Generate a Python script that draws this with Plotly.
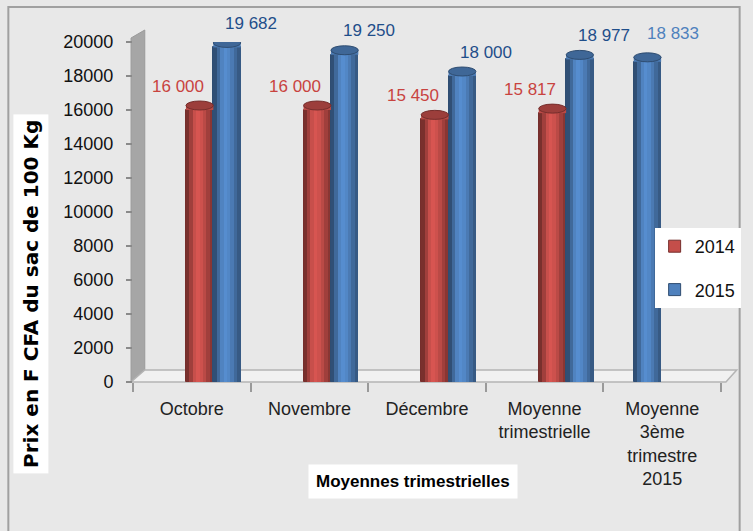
import plotly.graph_objects as go

# ---------------- data ----------------
categories = ["Octobre", "Novembre", "Décembre", "Moyenne<br>trimestrielle",
              "Moyenne<br>3ème<br>trimestre<br>2015"]
prix_2014 = [16000, 16000, 15450, 15817, None]
prix_2015 = [19682, 19250, 18000, 18977, None]
prix_3e_trim_2015 = [None, None, None, None, 18833]
labels_2014 = ["16 000", "16 000", "15 450", "15 817", ""]
labels_2015 = ["19 682", "19 250", "18 000", "18 977", ""]
labels_3e = ["", "", "", "", "18 833"]
y_ticks = list(range(0, 20001, 2000))
y_ticktext = [str(v) for v in y_ticks]

# ---------------- geometry / style ----------------
W, H = 753, 531
L, R, T, B = 133, 21, 42, 149
PW, PH = W - L - R, H - T - B


def px(p):
    return (p - L) / PW


def py(p):
    return (H - B - p) / PH


BAR_W = 0.233
OFF_2014 = -0.05
OFF_2015 = OFF_2014 + BAR_W
OFF_3E = -0.242

RED = (196, 78, 74)
BLUE = (79, 129, 189)
FONT = "Liberation Sans"

xs = list(range(len(categories)))

fig = go.Figure()

shade_profile = [0.62, 0.82, 1.02, 1.1, 1.05, 0.95, 0.82, 0.7]


def shade(rgb, f):
    return "rgb(%d,%d,%d)" % tuple(max(0, min(255, int(c * f))) for c in rgb)


def add_cylinder(vals, off, rgb, name, legend, group):
    # base bar (used for legend)
    fig.add_trace(go.Bar(
        x=xs, y=vals, offset=off, width=BAR_W, name=name,
        marker=dict(color=shade(rgb, 1.0), line=dict(color=shade(rgb, 0.6), width=1)),
        showlegend=legend, legendgroup=group, hoverinfo="skip"))
    n = len(shade_profile)
    sw = BAR_W / n
    for k, f in enumerate(shade_profile):
        fig.add_trace(go.Bar(
            x=xs, y=vals, offset=off + k * sw, width=sw * 1.02,
            marker=dict(color=shade(rgb, f), line=dict(width=0)),
            showlegend=False, legendgroup=group, hoverinfo="skip"))
    # elliptical top cap of the cylinder
    for i, v in enumerate(vals):
        if v is None:
            continue
        fig.add_shape(type="rect", xref="x", yref="y", ysizemode="pixel",
                      x0=i + off, x1=i + off + BAR_W, yanchor=v, y0=0, y1=4,
                      fillcolor=shade(rgb, 0.95), line=dict(width=0))
        fig.add_shape(type="circle", xref="x", yref="y", ysizemode="pixel",
                      x0=i + off, x1=i + off + BAR_W, yanchor=v, y0=0, y1=9,
                      fillcolor=shade(rgb, 0.8), line=dict(color=shade(rgb, 0.6), width=1))


add_cylinder(prix_2014, OFF_2014, RED, "2014", True, "a")
add_cylinder(prix_2015, OFF_2015, BLUE, "2015", True, "b")
add_cylinder(prix_3e_trim_2015, OFF_3E, BLUE, "3e trimestre 2015", False, "c")


# data labels
def add_labels(vals, labs, off, color, dx, dy):
    for i, (v, t) in enumerate(zip(vals, labs)):
        if v is None or not t:
            continue
        fig.add_annotation(x=i + off + BAR_W / 2, y=v, text=t, showarrow=False,
                           xshift=dx, yshift=dy, xanchor="center", yanchor="middle",
                           font=dict(family=FONT, size=17, color=color))


add_labels(prix_2014, labels_2014, OFF_2014, "#c8433f", -22, 24)
add_labels(prix_2015, labels_2015, OFF_2015, "#1f4e8a", 24, 24)
add_labels(prix_3e_trim_2015, labels_3e, OFF_3E, "#4f81bd", 26, 28)

# 3D wall and floor decoration
fig.add_shape(type="path", xref="paper", yref="paper",
              path="M %f,%f L %f,%f L %f,%f L %f,%f Z" % (
                  px(131), py(382), px(131), py(38), px(145), py(30), px(145), py(370)),
              fillcolor="#a6a6a6", line=dict(color="#9a9a9a", width=1), layer="below")
fig.add_shape(type="path", xref="paper", yref="paper",
              path="M %f,%f L %f,%f L %f,%f L %f,%f Z" % (
                  px(131), py(382), px(737), py(382), px(748), py(370), px(145), py(370)),
              fillcolor="#f1f1f1", line=dict(color="#b4b4b4", width=1.5), layer="below")
# outer border
fig.add_shape(type="rect", xref="paper", yref="paper",
              x0=px(6), y0=py(540), x1=px(751), y1=py(7),
              line=dict(color="#a0a0a0", width=2), fillcolor="rgba(0,0,0,0)", layer="below")

# axis titles with white boxes
fig.add_annotation(xref="paper", yref="paper", x=px(29), y=py(294),
                   xanchor="center", yanchor="middle",
                   text="<b>Prix en F CFA du sac de 100 Kg</b>", textangle=-90,
                   showarrow=False, bgcolor="white", borderpad=5,
                   font=dict(family="DejaVu Sans", size=20, color="black"))
fig.add_annotation(xref="paper", yref="paper", x=px(418), y=py(481),
                   xanchor="center", yanchor="middle",
                   text="<b>Moyennes trimestrielles</b>", showarrow=False,
                   bgcolor="white", borderpad=7,
                   font=dict(family=FONT, size=17, color="black"))

fig.update_layout(
    width=W, height=H,
    margin=dict(l=L, r=R, t=T, b=B, pad=0),
    paper_bgcolor="#e8e8e8", plot_bgcolor="rgba(0,0,0,0)",
    barmode="overlay", bargap=0,
    showlegend=True,
    legend=dict(x=px(752), y=py(228), xanchor="right", yanchor="top",
                bgcolor="white", font=dict(family=FONT, size=18, color="#111"),
                tracegroupgap=17, itemwidth=30, borderwidth=0),
    xaxis=dict(tickmode="array", tickvals=xs, ticktext=categories,
               range=[-0.5, len(categories) - 0.5],
               ticks="", showgrid=False, zeroline=False, showline=False,
               tickfont=dict(family=FONT, size=18, color="#222"),
               ticklabelstandoff=14,
               minor=dict(tick0=-0.5, dtick=1, ticks="outside", ticklen=9,
                          tickcolor="#9a9a9a", tickwidth=1.5, showgrid=False)),
    yaxis=dict(range=[0, 20000], tickmode="array", tickvals=y_ticks,
               ticktext=y_ticktext, showgrid=False, zeroline=False,
               showline=False, ticks="outside", ticklen=6, tickcolor="#8a8a8a",
               tickwidth=1.5, tickfont=dict(family=FONT, size=18, color="#111"),
               ticklabelstandoff=9),
)

fig.write_html("out.html", config={"displayModeBar": False},
               post_script="document.body.style.margin='0';"
                           "document.body.style.overflow='hidden';")
